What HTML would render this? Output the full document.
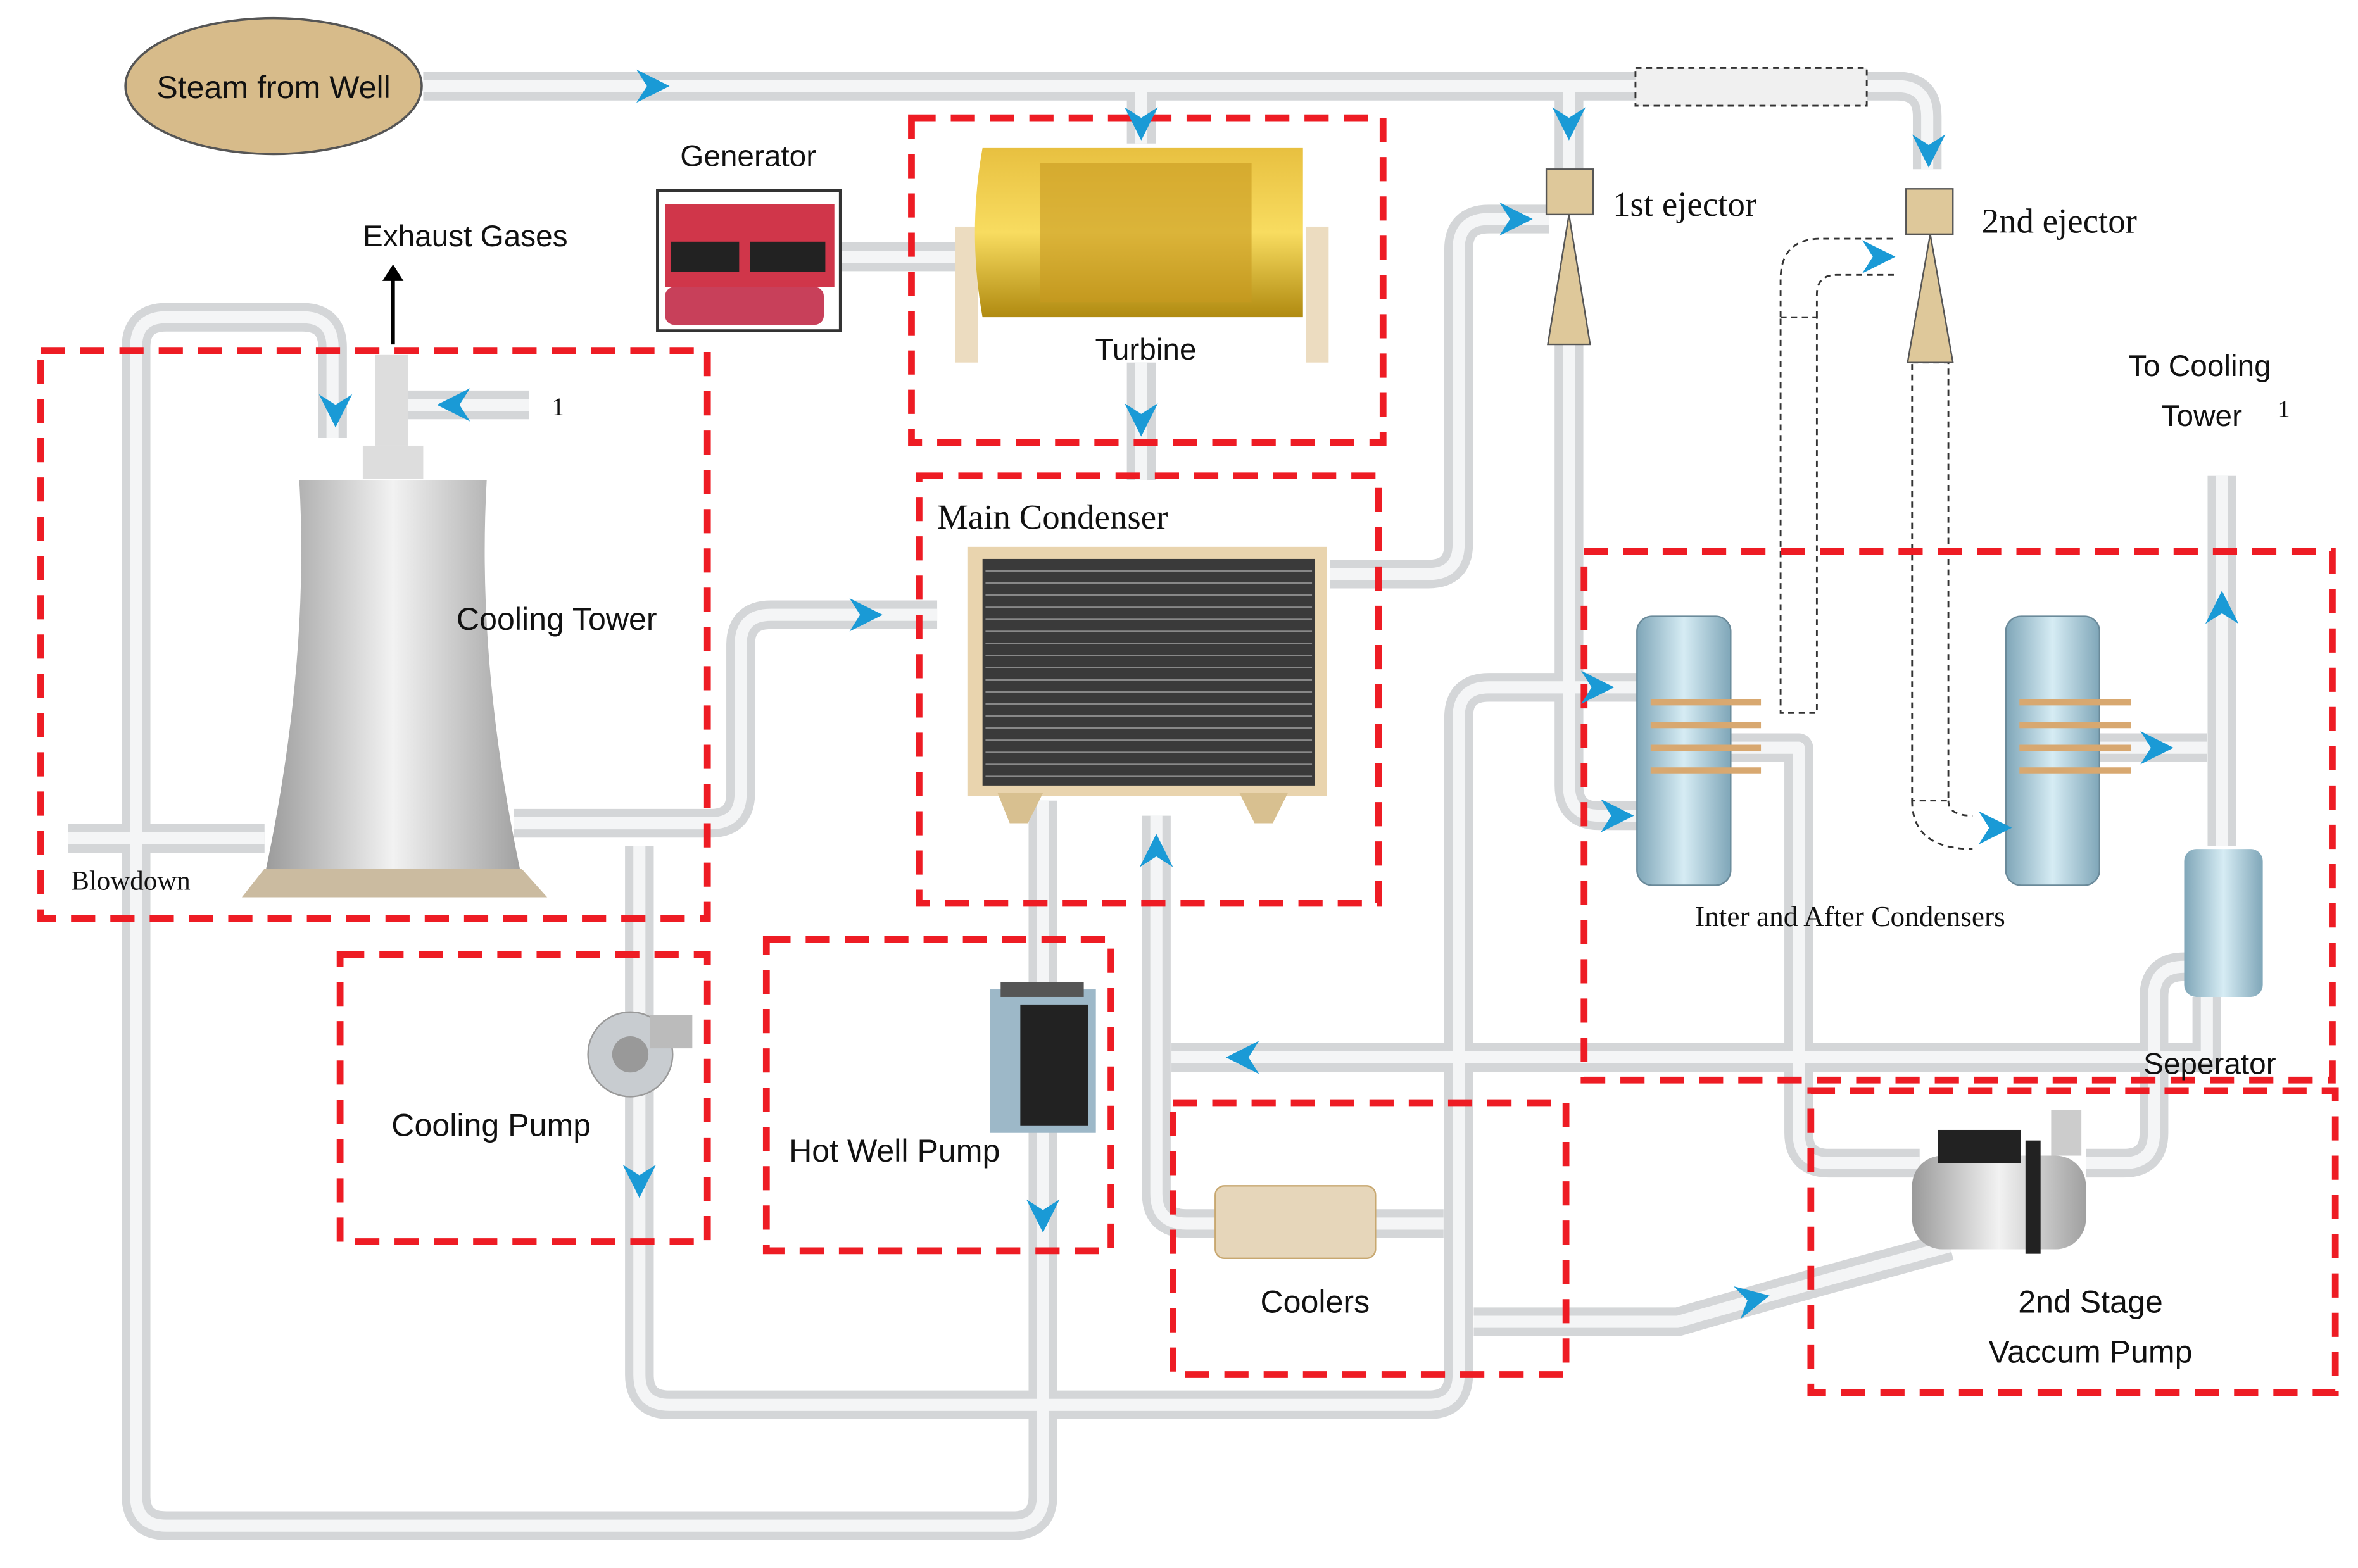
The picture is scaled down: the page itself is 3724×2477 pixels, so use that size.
<!DOCTYPE html>
<html><head><meta charset="utf-8"><style>
html,body{margin:0;padding:0;background:#fff}
svg{display:block}
text{font-family:"Liberation Sans",sans-serif;fill:#111}
.s{font-family:"Liberation Serif",serif}
.p1{fill:none;stroke:#d4d6d8;stroke-width:19;stroke-linecap:butt;stroke-linejoin:round}
.p2{fill:none;stroke:#f4f5f6;stroke-width:8;stroke-linejoin:round}
.r{fill:none;stroke:#ee1c24;stroke-width:4.5;stroke-dasharray:16 10}
.a{fill:#1a9ad6}
.d{fill:none;stroke:#333;stroke-width:1.2;stroke-dasharray:4 3}
</style></head><body>
<svg width="3724" height="2477" viewBox="0 0 1560 1038" preserveAspectRatio="none">
<defs>
<g id="ar"><path d="M-11,-11 L11,0 L-11,11 L-4,0 Z" fill="#1a9ad6"/></g>
<linearGradient id="tw" x1="0" x2="1"><stop offset="0" stop-color="#9a9a9a"/><stop offset=".5" stop-color="#f2f2f2"/><stop offset="1" stop-color="#a0a0a0"/></linearGradient>
<linearGradient id="cy" x1="0" x2="1"><stop offset="0" stop-color="#7fa6b8"/><stop offset=".5" stop-color="#d6ecf4"/><stop offset="1" stop-color="#7fa6b8"/></linearGradient>
<linearGradient id="gd" x1="0" y1="0" x2="0" y2="1"><stop offset="0" stop-color="#e8c040"/><stop offset=".5" stop-color="#f8dc60"/><stop offset="1" stop-color="#b08a10"/></linearGradient>
</defs>
<path class="p1" d="M280,57 H1255 Q1275,57 1275,77 V112
M755,57 V95 M1038,57 V112 M755,240 V318 M555,170 H650
M220,290 V230 Q220,210 200,210 H110 Q90,210 90,230 V990 Q90,1010 110,1010 H670 Q690,1010 690,990 V530
M270,268 H350 M45,555 H175
M340,545 H470 Q490,545 490,525 V427 Q490,407 510,407 H620
M880,380 H945 Q965,380 965,360 V165 Q965,145 985,145 H1025
M1038,225 V520 Q1038,540 1058,540 H1085
M1085,455 H985 Q965,455 965,475 V910 Q965,930 945,930 H443 Q423,930 423,910 V560
M765,540 V790 Q765,810 785,810 H955
M775,700 H1460 V660
M1140,495 H1190 V750 Q1190,770 1210,770 H1270
M1470,315 V560 M1385,495 H1460
M1445,640 Q1425,640 1425,660 V750 Q1425,770 1405,770 H1380
M975,875 H1110 L1180,855 L1290,825"/>
<path class="p2" d="M280,57 H1255 Q1275,57 1275,77 V112
M755,57 V95 M1038,57 V112 M755,240 V318 M555,170 H650
M220,290 V230 Q220,210 200,210 H110 Q90,210 90,230 V990 Q90,1010 110,1010 H670 Q690,1010 690,990 V530
M270,268 H350 M45,555 H175
M340,545 H470 Q490,545 490,525 V427 Q490,407 510,407 H620
M880,380 H945 Q965,380 965,360 V165 Q965,145 985,145 H1025
M1038,225 V520 Q1038,540 1058,540 H1085
M1085,455 H985 Q965,455 965,475 V910 Q965,930 945,930 H443 Q423,930 423,910 V560
M765,540 V790 Q765,810 785,810 H955
M775,700 H1460 V660
M1140,495 H1190 V750 Q1190,770 1210,770 H1270
M1470,315 V560 M1385,495 H1460
M1445,640 Q1425,640 1425,660 V750 Q1425,770 1405,770 H1380
M975,875 H1110 L1180,855 L1290,825"/>
<!-- dashed pipes -->
<rect x="1082" y="45" width="153" height="25" fill="#f0f0f0" stroke="#333" stroke-width="1.2" stroke-dasharray="4 3"/>
<path d="M1178,210 V185 Q1178,158 1205,158 H1255 M1202,210 V195 Q1202,182 1215,182 H1255" class="d" fill="#eee"/>
<rect x="1178" y="210" width="24" height="262" fill="#eee" class="d"/>
<rect x="1265" y="240" width="24" height="290" fill="#eee" class="d"/>
<path d="M1265,530 Q1265,562 1305,562 M1289,530 Q1289,540 1305,540" class="d"/>
<!-- red boxes -->
<rect class="r" x="27" y="232" width="441" height="376"/>
<rect class="r" x="603" y="78" width="312" height="215"/>
<rect class="r" x="608" y="315" width="304" height="283"/>
<rect class="r" x="225" y="632" width="243" height="190"/>
<rect class="r" x="507" y="622" width="228" height="206"/>
<rect class="r" x="776" y="730" width="260" height="180"/>
<rect class="r" x="1048" y="365" width="495" height="350"/>
<rect class="r" x="1198" y="722" width="347" height="200"/>
<!-- steam ellipse -->
<ellipse cx="181" cy="57" rx="98" ry="45" fill="#d7bb8a" stroke="#555" stroke-width="1.5"/>
<text x="181" y="65" font-size="21" text-anchor="middle">Steam from Well</text>
<!-- generator -->
<rect x="435" y="126" width="121" height="93" fill="#fff" stroke="#333" stroke-width="2"/>
<rect x="440" y="135" width="112" height="55" fill="#d0364a"/>
<rect x="444" y="160" width="45" height="20" fill="#222"/><rect x="496" y="160" width="50" height="20" fill="#222"/>
<rect x="440" y="190" width="105" height="25" rx="6" fill="#c8405a"/>
<text x="495" y="110" font-size="20" text-anchor="middle">Generator</text>
<!-- turbine -->
<rect x="632" y="150" width="15" height="90" fill="#ecdcc0"/><rect x="864" y="150" width="15" height="90" fill="#ecdcc0"/>
<path d="M650,98 L862,98 L862,210 L650,210 Q640,154 650,98Z" fill="url(#gd)"/>
<rect x="688" y="108" width="140" height="92" fill="#c89a20" opacity=".6"/>
<text x="758" y="238" font-size="20" text-anchor="middle">Turbine</text>
<!-- main condenser -->
<rect x="640" y="362" width="238" height="165" fill="#e9d4ae"/>
<rect x="650" y="370" width="220" height="150" fill="#3a3a3a"/>
<path stroke="#888" stroke-width="1" d="M652,378H868M652,386H868M652,394H868M652,402H868M652,410H868M652,418H868M652,426H868M652,434H868M652,442H868M652,450H868M652,458H868M652,466H868M652,474H868M652,482H868M652,490H868M652,498H868M652,506H868M652,514H868"/>
<path d="M660,525 H690 L680,545 H668Z M820,525 H852 L842,545 H830Z" fill="#d8c090"/>
<text x="620" y="350" font-size="23" class="s">Main Condenser</text>
<!-- cooling tower -->
<rect x="248" y="235" width="22" height="60" fill="#ddd"/>
<rect x="240" y="295" width="40" height="22" fill="#ddd"/>
<path d="M198,318 L322,318 Q315,440 345,580 L175,580 Q205,440 198,318Z" fill="url(#tw)"/>
<path d="M160,594 L175,575 L345,575 L362,594Z" fill="#cbbba0"/>
<text x="302" y="417" font-size="21">Cooling Tower</text>
<text x="47" y="589" font-size="18" class="s">Blowdown</text>
<text x="365" y="275" font-size="17" class="s">1</text>
<text x="240" y="163" font-size="20">Exhaust Gases</text>
<path d="M260,228 V182" stroke="#000" stroke-width="2.5"/><path d="M253,186 L260,175 L267,186Z"/>
<!-- cooling pump -->
<circle cx="417" cy="698" r="28" fill="#c8ccd0" stroke="#999"/><circle cx="417" cy="698" r="12" fill="#999"/>
<rect x="430" y="672" width="28" height="22" fill="#bbb"/>
<text x="259" y="752" font-size="21">Cooling Pump</text>
<!-- hot well -->
<rect x="655" y="655" width="70" height="95" fill="#9db8c8"/><rect x="675" y="665" width="45" height="80" fill="#222"/>
<rect x="662" y="650" width="55" height="10" fill="#555"/>
<text x="522" y="769" font-size="21">Hot Well Pump</text>
<!-- coolers -->
<rect x="804" y="785" width="106" height="48" rx="6" fill="#e6d6ba" stroke="#c8a870"/>
<text x="870" y="869" font-size="21" text-anchor="middle">Coolers</text>
<!-- ejectors -->
<rect x="1023" y="112" width="31" height="30" fill="#dec89a" stroke="#555"/>
<path d="M1038,142 L1024,228 L1052,228Z" fill="#dec89a" stroke="#555"/>
<text x="1067" y="143" font-size="23" class="s">1st ejector</text>
<rect x="1261" y="125" width="31" height="30" fill="#dec89a" stroke="#555"/>
<path d="M1277,155 L1262,240 L1292,240Z" fill="#dec89a" stroke="#555"/>
<text x="1311" y="154" font-size="23" class="s">2nd ejector</text>
<!-- inter/after condensers -->
<rect x="1083" y="408" width="62" height="178" rx="10" fill="url(#cy)" stroke="#6a8a9a"/>
<path d="M1092,465 H1165 M1092,480 H1165 M1092,495 H1165 M1092,510 H1165" stroke="#d8a870" stroke-width="4"/>
<rect x="1327" y="408" width="62" height="178" rx="10" fill="url(#cy)" stroke="#6a8a9a"/>
<path d="M1336,465 H1410 M1336,480 H1410 M1336,495 H1410 M1336,510 H1410" stroke="#d8a870" stroke-width="4"/>
<text x="1224" y="613" font-size="19" text-anchor="middle" class="s">Inter and After Condensers</text>
<!-- separator -->
<rect x="1445" y="562" width="52" height="98" rx="8" fill="url(#cy)"/>
<text x="1418" y="711" font-size="20">Seperator</text>
<text x="1408" y="249" font-size="20">To Cooling</text>
<text x="1430" y="282" font-size="20">Tower</text>
<text x="1507" y="276" font-size="16" class="s">1</text>
<!-- vacuum pump -->
<rect x="1265" y="765" width="115" height="62" rx="20" fill="url(#tw)"/>
<rect x="1282" y="748" width="55" height="22" fill="#222"/>
<rect x="1340" y="755" width="10" height="75" fill="#222"/>
<rect x="1357" y="735" width="20" height="30" fill="#ccc"/>
<text x="1383" y="869" font-size="21" text-anchor="middle">2nd Stage</text>
<text x="1383" y="902" font-size="21" text-anchor="middle">Vaccum Pump</text>
<!-- arrows -->
<use href="#ar" transform="translate(432,57)"/>
<use href="#ar" transform="translate(755,82) rotate(90)"/>
<use href="#ar" transform="translate(1038,82) rotate(90)"/>
<use href="#ar" transform="translate(1276,100) rotate(90)"/>
<use href="#ar" transform="translate(755,278) rotate(90)"/>
<use href="#ar" transform="translate(1003,145)"/>
<use href="#ar" transform="translate(1243,170)"/>
<use href="#ar" transform="translate(222,272) rotate(90)"/>
<use href="#ar" transform="translate(300,268) rotate(180)"/>
<use href="#ar" transform="translate(573,407)"/>
<use href="#ar" transform="translate(1057,455)"/>
<use href="#ar" transform="translate(1070,540)"/>
<use href="#ar" transform="translate(1427,495)"/>
<use href="#ar" transform="translate(1320,548)"/>
<use href="#ar" transform="translate(1470,402) rotate(-90)"/>
<use href="#ar" transform="translate(765,563) rotate(-90)"/>
<use href="#ar" transform="translate(822,700) rotate(180)"/>
<use href="#ar" transform="translate(423,782) rotate(90)"/>
<use href="#ar" transform="translate(690,805) rotate(90)"/>
<use href="#ar" transform="translate(1160,860) rotate(-12)"/>
</svg>
</body></html>
